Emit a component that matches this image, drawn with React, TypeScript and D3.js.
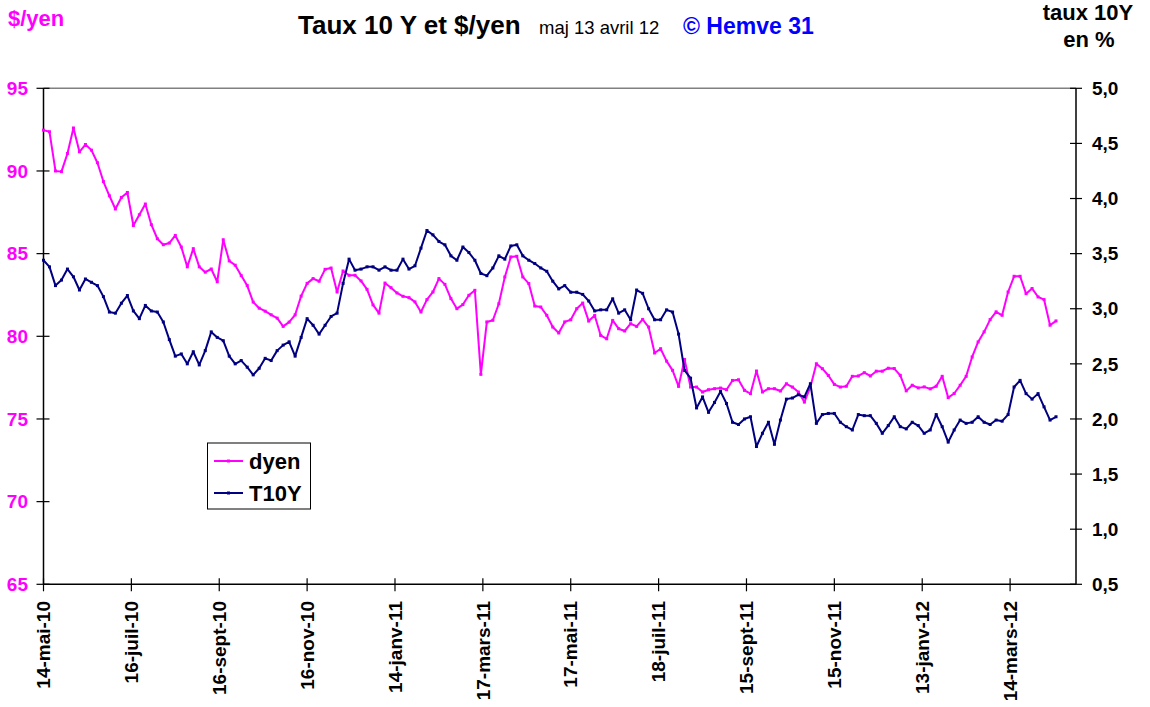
import * as d3 from 'd3'

// one reading every STEP trading days, starting 14 mai 2010
const STEP = 3

const dyen: number[] = [
  92.47, 92.37, 90.0, 89.96, 91.06, 92.6, 91.16, 91.6, 91.26, 90.5,
  89.36, 88.5, 87.7, 88.4, 88.7, 86.7, 87.35, 88.0, 86.75, 85.9,
  85.54, 85.64, 86.1, 85.4, 84.2, 85.3, 84.2, 83.88, 84.07, 83.3,
  85.84, 84.56, 84.3, 83.67, 83.07, 82.07, 81.7, 81.52, 81.3, 81.1,
  80.6, 80.86, 81.3, 82.43, 83.2, 83.49, 83.33, 84.05, 84.13, 82.68,
  83.95, 83.69, 83.69, 83.35, 82.84, 81.9, 81.4, 83.22, 82.94, 82.62,
  82.42, 82.34, 82.08, 81.47, 82.22, 82.68, 83.49, 83.14, 82.28, 81.67,
  81.92, 82.48, 82.78, 77.7, 80.87, 80.97, 81.97, 83.59, 84.8, 84.84,
  83.59, 83.19, 81.83, 81.77, 81.27, 80.56, 80.2, 80.87, 81.0, 81.67,
  82.01, 80.92, 81.26, 80.05, 79.85, 80.96, 80.46, 80.32, 80.76, 80.6,
  81.02, 80.56, 78.99, 79.25, 78.5, 77.94, 76.97, 78.6, 76.93, 76.93,
  76.63, 76.77, 76.83, 76.87, 76.77, 77.33, 77.37, 76.73, 76.53, 77.9,
  76.63, 76.83, 76.83, 76.69, 77.13, 76.93, 76.63, 76.02, 76.93, 78.34,
  78.04, 77.63, 77.09, 76.93, 76.98, 77.58, 77.6, 77.8, 77.6, 77.89,
  77.89, 78.07, 78.05, 77.64, 76.7, 77.04, 76.88, 76.94, 76.82, 76.98,
  77.58, 76.29, 76.54, 77.04, 77.58, 78.75, 79.66, 80.27, 81.01, 81.48,
  81.27, 82.68, 83.63, 83.63, 82.58, 82.89, 82.38, 82.22, 80.67, 80.93,
]

const t10y: number[] = [
  3.44, 3.38, 3.21, 3.26, 3.36, 3.29, 3.17, 3.27, 3.24, 3.21,
  3.11, 2.97, 2.96, 3.05, 3.12, 2.98, 2.91, 3.03, 2.98, 2.97,
  2.88, 2.72, 2.57, 2.59, 2.5, 2.61, 2.49, 2.62, 2.79, 2.74,
  2.71, 2.57, 2.5, 2.53, 2.47, 2.4, 2.46, 2.55, 2.53, 2.62,
  2.67, 2.7, 2.57, 2.74, 2.91, 2.85, 2.77, 2.85, 2.93, 2.96,
  3.23, 3.45, 3.35, 3.36, 3.38, 3.38, 3.35, 3.38, 3.35, 3.35,
  3.45, 3.36, 3.39, 3.55, 3.71, 3.67, 3.61, 3.58, 3.48, 3.44,
  3.56, 3.51, 3.44, 3.32, 3.3, 3.37, 3.48, 3.45, 3.57, 3.58,
  3.48, 3.44, 3.41, 3.37, 3.34, 3.25, 3.18, 3.21, 3.15, 3.15,
  3.13, 3.07, 2.98, 2.99, 2.99, 3.09, 2.96, 2.99, 2.9, 3.17,
  3.14, 3.0, 2.9, 2.9, 2.99, 2.97, 2.77, 2.44, 2.37, 2.1,
  2.2, 2.06, 2.15, 2.25, 2.14, 1.97, 1.95, 2.0, 2.02, 1.75,
  1.87, 1.97, 1.77, 1.99, 2.18, 2.19, 2.22, 2.2, 2.32, 1.96,
  2.04, 2.05, 2.05, 1.97, 1.93, 1.9, 2.04, 2.03, 2.03, 1.96,
  1.87, 1.94, 2.02, 1.93, 1.91, 1.97, 1.94, 1.87, 1.9, 2.04,
  1.93, 1.79, 1.9, 1.99, 1.96, 1.97, 2.02, 1.97, 1.95, 1.99,
  1.98, 2.04, 2.29, 2.35, 2.23, 2.18, 2.23, 2.11, 1.99, 2.02,
]

// one label every 44 trading days
const dateLabels = [
  '14-mai-10', '16-juil-10', '16-sept-10', '16-nov-10', '14-janv-11', '17-mars-11',
  '17-mai-11', '18-juil-11', '15-sept-11', '15-nov-11', '13-janv-12', '14-mars-12',
]
const LABEL_EVERY = 44
const LAST_SLOT = 517

const leftTicks = [65, 70, 75, 80, 85, 90, 95]
const rightTicks = [0.5, 1, 1.5, 2, 2.5, 3, 3.5, 4, 4.5, 5]

const seriesMeta = [
  { name: 'dyen', color: '#ff00ff' },
  { name: 'T10Y', color: '#000080' },
]

const W = 1150
const H = 707
const left = 43.5
const right = 1076
const top = 88.3
const bottom = 584.3
const font = '"Liberation Sans", Arial, sans-serif'

export default function App() {
  const x = d3.scaleLinear().domain([0, LAST_SLOT]).range([left, right])
  const yL = d3.scaleLinear().domain([65, 95]).range([bottom, top])
  const yR = d3.scaleLinear().domain([0.5, 5]).range([bottom, top])

  const lineL = d3.line<number>().x((_, i) => x(i * STEP)).y((d) => yL(d))
  const lineR = d3.line<number>().x((_, i) => x(i * STEP)).y((d) => yR(d))

  const fmtR = (v: number) => v.toFixed(1).replace('.', ',')

  return (
    <div style={{ position: 'fixed', left: 0, top: 0 }}>
      <svg width={W} height={H} style={{ display: 'block', background: '#fff' }} fontFamily={font}>
        {/* headings */}
        <text x={8} y={26} fontSize={22} fontWeight="bold" fill="#ff00ff">$/yen</text>
        <text x={298} y={34} fontSize={26} fontWeight="bold" fill="#000">Taux 10 Y et $/yen</text>
        <text x={539} y={34} fontSize={18.5} fill="#000">maj 13 avril 12</text>
        <text x={683} y={34} fontSize={23} fontWeight="bold" fill="#0000ff">© Hemve 31</text>
        <text x={1088} y={20} fontSize={22} fontWeight="bold" textAnchor="middle">taux 10Y</text>
        <text x={1089} y={47} fontSize={22} fontWeight="bold" textAnchor="middle">en %</text>

        {/* frame */}
        <line x1={left} x2={right} y1={top} y2={top} stroke="#808080" strokeWidth={1.5} />
        <line x1={left} x2={left} y1={top} y2={bottom} stroke="#000" strokeWidth={1.5} />
        <line x1={right} x2={right} y1={top} y2={bottom} stroke="#000" strokeWidth={1.5} />
        <line x1={left} x2={right} y1={bottom} y2={bottom} stroke="#000" strokeWidth={1.5} />

        {leftTicks.map((t) => (
          <g key={`l${t}`}>
            <line x1={left - 7} x2={left + 6} y1={yL(t)} y2={yL(t)} stroke="#000" strokeWidth={1.2} />
            <text x={28} y={yL(t)} dy="0.35em" textAnchor="end" fontSize={19} fontWeight="bold" fill="#ff00ff">{t}</text>
          </g>
        ))}
        {rightTicks.map((t) => (
          <g key={`r${t}`}>
            <line x1={right - 6} x2={right + 6} y1={yR(t)} y2={yR(t)} stroke="#000" strokeWidth={1.2} />
            <text x={1092} y={yR(t)} dy="0.35em" fontSize={19} fontWeight="bold" fill="#000">{fmtR(t)}</text>
          </g>
        ))}
        {dateLabels.map((label, i) => {
          const px = x(i * LABEL_EVERY)
          return (
            <g key={label}>
              <line x1={px} x2={px} y1={bottom - 6} y2={bottom + 7} stroke="#000" strokeWidth={1.2} />
              <text
                transform={`translate(${px},601) rotate(-90)`}
                dy="0.35em"
                textAnchor="end"
                fontSize={19}
                fontWeight="bold"
                fill="#000"
              >
                {label}
              </text>
            </g>
          )
        })}

        {/* series */}
        <path d={lineL(dyen) ?? ''} fill="none" stroke={seriesMeta[0].color} strokeWidth={2} strokeLinejoin="round" />
        {dyen.map((d, i) => (
          <rect key={`dm${i}`} x={x(i * STEP) - 1.5} y={yL(d) - 1.5} width={3} height={3} fill={seriesMeta[0].color} />
        ))}
        <path d={lineR(t10y) ?? ''} fill="none" stroke={seriesMeta[1].color} strokeWidth={2} strokeLinejoin="round" />
        {t10y.map((d, i) => (
          <rect key={`tm${i}`} x={x(i * STEP) - 1.5} y={yR(d) - 1.5} width={3} height={3} fill={seriesMeta[1].color} />
        ))}

        {/* legend */}
        <rect x={207.5} y={443} width={103} height={66} fill="#fff" stroke="#000" strokeWidth={1} />
        {seriesMeta.map((s, i) => {
          const ly = 461 + i * 32
          return (
            <g key={s.name}>
              <line x1={214} x2={243} y1={ly} y2={ly} stroke={s.color} strokeWidth={2} />
              <rect x={227} y={ly - 1.5} width={3} height={3} fill={s.color} />
              <text x={249} y={ly} dy="0.35em" fontSize={22} fontWeight="bold" fill="#000">{s.name}</text>
            </g>
          )
        })}
      </svg>
    </div>
  )
}
